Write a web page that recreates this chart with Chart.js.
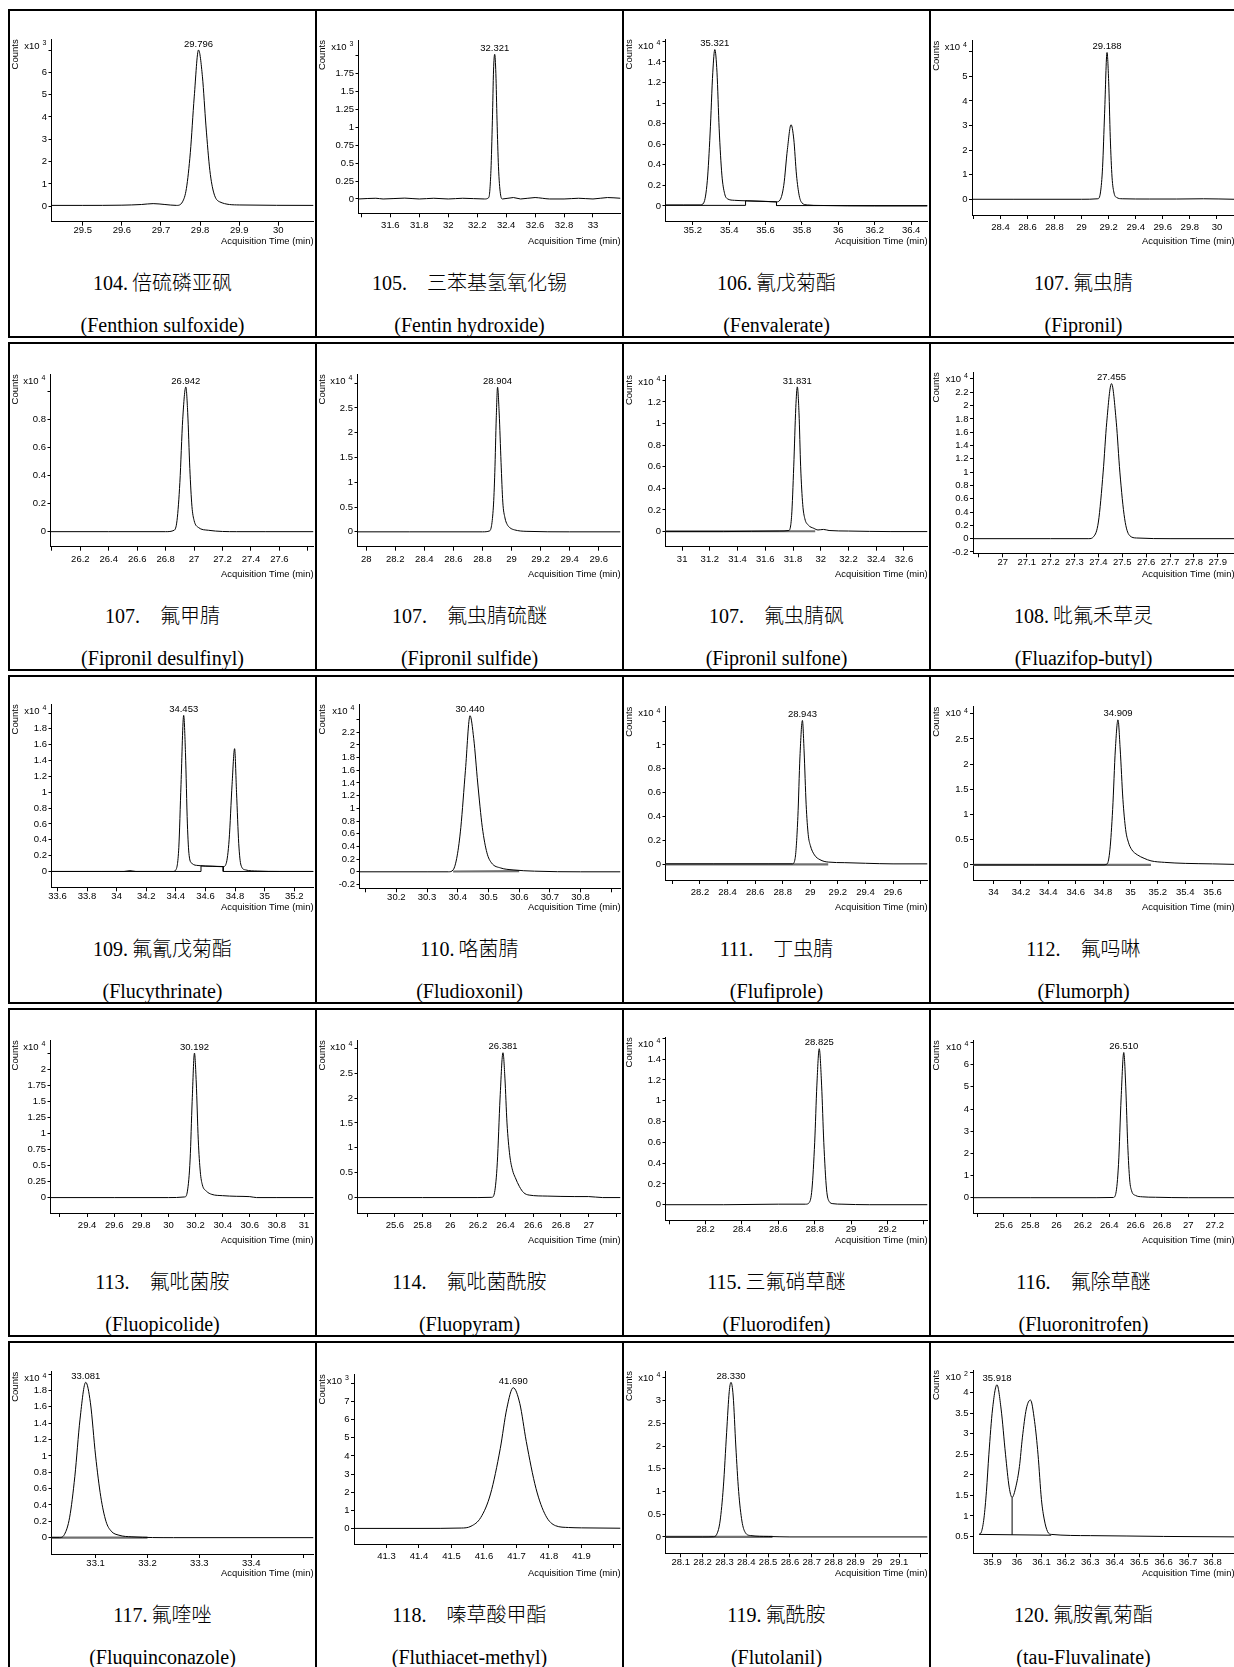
<!DOCTYPE html>
<html>
<head>
<meta charset="utf-8">
<script src="https://cdn.jsdelivr.net/npm/chart.js@4.4.1/dist/chart.umd.min.js"></script>
<style>
  html, body { margin: 0; padding: 0; background: #fff; }
  body { width: 1234px; height: 1667px; overflow: hidden; position: relative; }
  .row { position: absolute; left: 8px; width: 1240px; height: 329px; border: 2px solid #000; box-sizing: border-box; }
  .sep { position: absolute; width: 2px; height: 329px; background: #000; }
  .plot { position: absolute; }
  .cn, .en { position: absolute; text-align: center; white-space: pre; color: #000; line-height: 24px; }
  .cn { font: 300 20px "Liberation Serif", "Noto Sans CJK SC", serif; }
  .en { font: 20px "Liberation Serif", serif; }
</style>
</head>
<body>
<script>
// 图谱数据（时间 min，响应值按各图的 x10^n 计）
const titlesCn = ["104.\u2009倍硫磷亚砜", "105.\u3000三苯基氢氧化锡", "106.\u2009氰戊菊酯", "107.\u2009氟虫腈",
  "107.\u3000氟甲腈", "107.\u3000氟虫腈硫醚", "107.\u3000氟虫腈砜", "108.\u2009吡氟禾草灵",
  "109.\u2009氟氰戊菊酯", "110.\u2009咯菌腈", "111.\u3000丁虫腈", "112.\u3000氟吗啉",
  "113.\u3000氟吡菌胺", "114.\u3000氟吡菌酰胺", "115.\u2009三氟硝草醚", "116.\u3000氟除草醚",
  "117.\u2009氟喹唑", "118.\u3000嗪草酸甲酯", "119.\u2009氟酰胺", "120.\u2009氟胺氰菊酯"];
const titlesEn = ["(Fenthion sulfoxide)", "(Fentin hydroxide)", "(Fenvalerate)", "(Fipronil)",
  "(Fipronil desulfinyl)", "(Fipronil sulfide)", "(Fipronil sulfone)", "(Fluazifop-butyl)",
  "(Flucythrinate)", "(Fludioxonil)", "(Flufiprole)", "(Flumorph)",
  "(Fluopicolide)", "(Fluopyram)", "(Fluorodifen)", "(Fluoronitrofen)",
  "(Fluquinconazole)", "(Fluthiacet-methyl)", "(Flutolanil)", "(tau-Fluvalinate)"];
const peakTimes = ["29.796", "32.321", "35.321", "29.188", "26.942", "28.904", "31.831", "27.455",
  "34.453", "30.440", "28.943", "34.909", "30.192", "26.381", "28.825", "26.510",
  "33.081", "41.690", "28.330", "35.918"];
const exponents = [3, 3, 4, 4, 4, 4, 4, 4, 4, 4, 4, 4, 4, 4, 4, 4, 4, 3, 4, 2];

const xMins = [29.42, 31.38, 35.05, 28.19, 25.99, 27.94, 30.88, 26.875, 33.56, 30.08,
  27.95, 33.85, 29.13, 25.33, 27.98, 25.37, 33.015, 41.2, 28.03, 35.82];
const xMaxs = [30.09, 33.19, 36.49, 30.13, 27.84, 29.75, 32.77, 27.97, 35.33, 30.93,
  29.85, 35.76, 31.07, 27.23, 29.42, 27.35, 33.52, 42.02, 29.23, 36.89];
const xTicks = [
  [29.5, 29.6, 29.7, 29.8, 29.9, 30],
  [31.6, 31.8, 32, 32.2, 32.4, 32.6, 32.8, 33],
  [35.2, 35.4, 35.6, 35.8, 36, 36.2, 36.4],
  [28.4, 28.6, 28.8, 29, 29.2, 29.4, 29.6, 29.8, 30],
  [26.2, 26.4, 26.6, 26.8, 27, 27.2, 27.4, 27.6],
  [28, 28.2, 28.4, 28.6, 28.8, 29, 29.2, 29.4, 29.6],
  [31, 31.2, 31.4, 31.6, 31.8, 32, 32.2, 32.4, 32.6],
  [27, 27.1, 27.2, 27.3, 27.4, 27.5, 27.6, 27.7, 27.8, 27.9],
  [33.6, 33.8, 34, 34.2, 34.4, 34.6, 34.8, 35, 35.2],
  [30.2, 30.3, 30.4, 30.5, 30.6, 30.7, 30.8],
  [28.2, 28.4, 28.6, 28.8, 29, 29.2, 29.4, 29.6],
  [34, 34.2, 34.4, 34.6, 34.8, 35, 35.2, 35.4, 35.6],
  [29.4, 29.6, 29.8, 30, 30.2, 30.4, 30.6, 30.8, 31],
  [25.6, 25.8, 26, 26.2, 26.4, 26.6, 26.8, 27],
  [28.2, 28.4, 28.6, 28.8, 29, 29.2],
  [25.6, 25.8, 26, 26.2, 26.4, 26.6, 26.8, 27, 27.2],
  [33.1, 33.2, 33.3, 33.4],
  [41.3, 41.4, 41.5, 41.6, 41.7, 41.8, 41.9],
  [28.1, 28.2, 28.3, 28.4, 28.5, 28.6, 28.7, 28.8, 28.9, 29, 29.1],
  [35.9, 36, 36.1, 36.2, 36.3, 36.4, 36.5, 36.6, 36.7, 36.8]
];
// 无标注的刻度
const xBare = [[], [31.4], [], [28.2], [26, 27.8], [], [], [26.9], [], [30.1, 30.9],
  [28, 29.8], [], [29.2], [25.4, 27.2], [28, 29.4], [25.4], [33.5], [42], [29.2], []];

const yMins = [-0.69, -0.2, -0.146, -0.64, -0.107, -0.3, -0.14, -0.22, -0.2, -0.26,
  -0.13, -0.3, -0.24, -0.31, -0.15, -0.69, -0.2, -0.86, -0.36, 0.09];
const yMaxs = [7.48, 2.22, 1.62, 6.45, 1.12, 3.18, 1.45, 2.5, 2.11, 2.64,
  1.32, 3.14, 2.45, 3.16, 1.61, 7.1, 2.03, 8.5, 3.65, 4.55];
const yTicks = [
  [0, 1, 2, 3, 4, 5, 6],
  [0, 0.25, 0.5, 0.75, 1, 1.25, 1.5, 1.75],
  [0, 0.2, 0.4, 0.6, 0.8, 1, 1.2, 1.4],
  [0, 1, 2, 3, 4, 5],
  [0, 0.2, 0.4, 0.6, 0.8],
  [0, 0.5, 1, 1.5, 2, 2.5],
  [0, 0.2, 0.4, 0.6, 0.8, 1, 1.2],
  [-0.2, 0, 0.2, 0.4, 0.6, 0.8, 1, 1.2, 1.4, 1.6, 1.8, 2, 2.2],
  [0, 0.2, 0.4, 0.6, 0.8, 1, 1.2, 1.4, 1.6, 1.8],
  [-0.2, 0, 0.2, 0.4, 0.6, 0.8, 1, 1.2, 1.4, 1.6, 1.8, 2, 2.2],
  [0, 0.2, 0.4, 0.6, 0.8, 1],
  [0, 0.5, 1, 1.5, 2, 2.5],
  [0, 0.25, 0.5, 0.75, 1, 1.25, 1.5, 1.75, 2],
  [0, 0.5, 1, 1.5, 2, 2.5],
  [0, 0.2, 0.4, 0.6, 0.8, 1, 1.2, 1.4],
  [0, 1, 2, 3, 4, 5, 6],
  [0, 0.2, 0.4, 0.6, 0.8, 1, 1.2, 1.4, 1.6, 1.8],
  [0, 1, 2, 3, 4, 5, 6, 7],
  [0, 0.5, 1, 1.5, 2, 2.5, 3],
  [0.5, 1, 1.5, 2, 2.5, 3, 3.5, 4]
];
const yBare = [7, 2, 1.6, 6, 1, 3, 1.4, 2.4, 2, 2.4, 1.2, 3, 2.25, 3, 1.6, 7, 2, 8, 3.5, 4.5];

// 色谱峰 [时间, 响应]
const trace104 = [[29.42,0.04],[29.5,0.04],[29.6,0.05],[29.65,0.08],[29.68,0.12],[29.71,0.08],[29.74,0.04],
  [29.755,0.2],[29.765,0.8],[29.775,2.4],[29.785,4.9],[29.796,7.0],[29.806,5.8],[29.815,3.6],[29.825,1.6],
  [29.835,0.6],[29.85,0.2],[29.9,0.06],[30.09,0.04]];
const trace105 = [[31.38,0],[31.5,0.01],[31.55,0],[31.7,0.012],[31.8,0],[31.9,0.01],[32.0,0],[32.1,0.01],
  [32.25,0],[32.28,0.02],[32.295,0.4],[32.305,1.1],[32.313,1.8],[32.321,2.02],[32.329,1.75],[32.337,1.1],
  [32.347,0.45],[32.36,0.08],[32.375,0],[32.45,0.02],[32.5,0],[32.6,0.02],[32.65,0.01],[32.7,0],
  [32.8,0],[32.9,0.01],[33.0,0],[33.1,0.02],[33.19,0.01]];
const trace106 = [[35.05,0.01],[35.15,0.01],[35.24,0.01],[35.26,0.03],[35.28,0.25],[35.295,0.7],[35.31,1.3],
  [35.321,1.52],[35.333,1.3],[35.345,0.75],[35.36,0.3],[35.375,0.12],[35.39,0.07],[35.43,0.055],[35.5,0.05],
  [35.6,0.045],[35.66,0.04],[35.68,0.06],[35.7,0.2],[35.72,0.55],[35.74,0.79],[35.755,0.65],[35.77,0.3],
  [35.785,0.1],[35.8,0.03],[35.83,0.01],[35.9,0.005],[36.2,0],[36.49,0]];
const trace107 = [[28.19,0],[28.5,0],[29.0,0],[29.12,0.02],[29.14,0.3],[29.155,1.3],[29.17,3.5],[29.188,5.97],
  [29.2,4.8],[29.212,2.5],[29.225,0.9],[29.24,0.25],[29.26,0.07],[29.3,0.02],[29.5,0.01],[29.7,0.01],
  [29.9,0.02],[30.13,0]];
const trace107a = [[25.99,0],[26.4,0],[26.8,0],[26.86,0.01],[26.88,0.08],[26.9,0.35],[26.92,0.8],[26.942,1.03],
  [26.955,0.85],[26.97,0.45],[26.985,0.18],[27.0,0.08],[27.03,0.03],[27.1,0.01],[27.3,0],[27.5,0],[27.84,0]];
const trace107b = [[27.94,0],[28.3,0],[28.8,0],[28.85,0.02],[28.875,0.5],[28.885,1.2],[28.895,2.3],
  [28.904,2.92],[28.915,2.4],[28.928,1.4],[28.94,0.6],[28.955,0.28],[28.97,0.15],[28.99,0.08],[29.02,0.04],
  [29.1,0.01],[29.4,0],[29.75,0]];
const trace107c = [[30.88,0],[31.3,0],[31.7,0.005],[31.77,0.01],[31.79,0.15],[31.805,0.6],[31.82,1.15],
  [31.831,1.34],[31.843,1.1],[31.855,0.6],[31.87,0.25],[31.885,0.12],[31.91,0.06],[31.95,0.03],
  [31.98,0.015],[32.02,0.02],[32.06,0.01],[32.2,0.005],[32.5,0],[32.77,0]];
const trace108 = [[26.875,0],[27.2,0],[27.36,0],[27.38,0.03],[27.4,0.25],[27.42,1.0],[27.435,1.75],
  [27.455,2.33],[27.475,1.75],[27.49,1.0],[27.51,0.3],[27.53,0.05],[27.56,0.01],[27.7,0],[27.97,0]];
const trace109 = [[33.56,0],[33.9,0],[34.05,0],[34.09,0.01],[34.13,0],[34.38,0],[34.40,0.02],[34.42,0.3],
  [34.435,1.1],[34.453,1.97],[34.465,1.5],[34.478,0.6],[34.49,0.2],[34.51,0.1],[34.55,0.075],[34.65,0.065],
  [34.72,0.06],[34.74,0.1],[34.76,0.4],[34.78,1.1],[34.797,1.55],[34.81,1.0],[34.825,0.35],[34.84,0.08],
  [34.87,0.02],[34.95,0.005],[35.1,0],[35.33,0]];
const trace110 = [[30.08,0],[30.3,0],[30.37,0],[30.385,0.03],[30.398,0.25],[30.41,0.7],[30.425,1.6],
  [30.44,2.46],[30.452,2.1],[30.465,1.4],[30.48,0.7],[30.495,0.3],[30.51,0.14],[30.54,0.06],[30.58,0.03],
  [30.65,0.01],[30.8,0],[30.93,0]];
const trace111 = [[27.95,0.005],[28.3,0.005],[28.7,0.005],[28.87,0.005],[28.89,0.05],[28.91,0.4],[28.925,0.9],
  [28.943,1.205],[28.955,0.95],[28.97,0.5],[28.985,0.25],[29.0,0.16],[29.03,0.08],[29.07,0.04],
  [29.13,0.02],[29.25,0.015],[29.4,0.01],[29.6,0.005],[29.85,0.005]];
const trace112 = [[33.85,0],[34.3,0],[34.8,0],[34.83,0.02],[34.85,0.3],[34.87,1.1],[34.89,2.3],[34.909,2.88],
  [34.925,2.3],[34.945,1.3],[34.965,0.7],[34.985,0.45],[35.01,0.3],[35.05,0.2],[35.1,0.13],[35.15,0.08],
  [35.25,0.05],[35.4,0.03],[35.6,0.02],[35.76,0.01]];
const trace113 = [[29.13,0],[29.6,0],[30.0,0],[30.12,0.01],[30.14,0.1],[30.16,0.6],[30.175,1.5],[30.192,2.25],
  [30.205,1.8],[30.22,0.9],[30.235,0.4],[30.25,0.2],[30.28,0.1],[30.32,0.05],[30.4,0.03],[30.5,0.02],
  [30.6,0.015],[30.65,0],[30.8,0],[31.07,0]];
const trace114 = [[25.33,0],[25.8,0],[26.2,0],[26.3,0.005],[26.32,0.1],[26.34,0.7],[26.36,2.0],[26.381,2.91],
  [26.395,2.4],[26.41,1.5],[26.43,0.85],[26.45,0.55],[26.47,0.4],[26.5,0.22],[26.53,0.1],[26.57,0.05],
  [26.7,0.03],[26.9,0.02],[27.0,0.02],[27.1,0],[27.23,0]];
const trace115 = [[27.98,0],[28.3,0],[28.6,0.005],[28.75,0.005],[28.77,0.02],[28.785,0.15],[28.8,0.6],
  [28.812,1.15],[28.825,1.5],[28.838,1.15],[28.85,0.6],[28.865,0.15],[28.88,0.03],[28.9,0.01],
  [28.95,0.005],[29.1,0],[29.42,0]];
const trace116 = [[25.37,0],[25.8,0],[26.3,0],[26.43,0.01],[26.45,0.2],[26.47,1.5],[26.49,4.5],[26.51,6.55],
  [26.525,5.0],[26.54,2.4],[26.555,0.8],[26.57,0.3],[26.6,0.1],[26.65,0.04],[26.75,0.02],[27.0,0],[27.35,0]];
const trace117 = [[33.015,0],[33.03,0],[33.04,0.04],[33.05,0.25],[33.06,0.75],[33.07,1.45],[33.081,1.9],
  [33.09,1.65],[33.1,1.0],[33.11,0.5],[33.12,0.2],[33.13,0.08],[33.145,0.03],[33.17,0.01],[33.25,0],[33.52,0]];
const trace118 = [[41.2,0],[41.4,0],[41.53,0.02],[41.56,0.12],[41.59,0.6],[41.62,1.9],[41.65,4.4],[41.67,6.6],
  [41.69,7.76],[41.71,6.9],[41.73,4.8],[41.76,2.2],[41.79,0.7],[41.82,0.15],[41.86,0.05],[41.9,0.03],[42.02,0.01]];
const trace119 = [[28.03,0],[28.2,0],[28.25,0.005],[28.265,0.06],[28.28,0.35],[28.295,1.1],[28.31,2.3],
  [28.322,3.2],[28.33,3.4],[28.34,3.1],[28.352,2.0],[28.365,1.0],[28.38,0.35],[28.395,0.1],[28.42,0.03],
  [28.5,0.01],[28.6,0],[29.23,0]];
const trace120 = [[35.845,0.55],[35.855,0.62],[35.865,0.95],[35.875,1.6],[35.885,2.5],[35.9,3.6],[35.918,4.19],
  [35.935,3.6],[35.953,2.5],[35.968,1.7],[35.98,1.45],[35.995,1.7],[36.01,2.2],[36.022,2.9],[36.038,3.6],
  [36.055,3.82],[36.072,3.3],[36.086,2.5],[36.1,1.4],[36.112,0.9],[36.125,0.62],[36.14,0.55],[36.3,0.52],
  [36.6,0.5],[36.89,0.49]];
const traces = [trace104, trace105, trace106, trace107, trace107a, trace107b, trace107c, trace108,
  trace109, trace110, trace111, trace112, trace113, trace114, trace115, trace116,
  trace117, trace118, trace119, trace120];

// 积分基线
const base106 = [[35.05,0.006],[35.49,0.006],[35.49,0.05],[35.66,0.04],[35.66,0.004],[36.49,0.004]];
const base109 = [[33.56,0],[34.57,0],[34.57,0.07],[34.72,0.062],[34.72,0],[35.33,0]];
const base120 = [[35.845,0.55],[36.14,0.53]];
const drop120 = [[35.98,0.54],[35.98,1.45]];
const integBase = [[], [], [base106], [], [], [], [], [], [base109], [], [], [], [], [], [], [], [], [], [], [base120, drop120]];
const shade107c = [[30.88,0.003],[31.96,0.003]];
const shade110 = [[30.385,0.005],[30.6,0.01]];
const shade111 = [[27.95,0],[29.13,0]];
const shade112 = [[33.85,0],[35.15,0]];
const shade117 = [[33.015,0],[33.2,0]];
const shade119 = [[28.03,0],[28.52,0]];
const shadeBase = [[], [], [], [], [], [], [shade107c], [], [], [shade110], [shade111], [shade112], [], [], [], [], [shade117], [], [shade119], []];

// 版面：每个小图坐标轴在格子里的位置（px，相对行框顶边）
const axisTopPx = [30.3, 31, 30.3, 31.7, 32.3, 32.3, 33, 30.3, 29.3, 29.3,
  31.7, 31.7, 32.3, 32.3, 29.3, 32.3, 30.7, 33.3, 30, 29];
const axisBotPx = [212.7, 204.3, 212, 206, 204.7, 204.7, 204.7, 211.3, 212.3, 213.3,
  205, 205, 205, 205, 212.3, 205, 213, 203, 212.3, 212.3];
const axisLeftPx = [42.5, 42.5, 42.5, 42, 41.5, 41.5, 42.5, 43, 42.5, 43.5,
  42.5, 43, 41.5, 41.5, 42.5, 43.5, 42.5, 38, 42.5, 43];

const SANS = '"Liberation Sans", Arial, sans-serif';
Chart.defaults.font.family = SANS;
Chart.defaults.color = "#000";

function fmt(v) {
  return String(Number(v.toFixed(3)));
}

function isBare(list, v) {
  return list.some((b) => Math.abs(b - v) < 1e-6);
}

function toPoints(arr) {
  return arr.map(([x, y]) => ({ x, y }));
}

function marks(i) {
  return {
    id: "marks" + i,
    afterDatasetsDraw(chart) {
      const { ctx, chartArea, scales } = chart;
      ctx.save();
      ctx.fillStyle = "#000";
      ctx.textBaseline = "middle";
      ctx.font = "9.5px " + SANS;
      ctx.textAlign = "right";
      ctx.fillText("x10", chartArea.left - 12, chartArea.top + 7);
      ctx.font = "7px " + SANS;
      ctx.textAlign = "left";
      ctx.fillText(String(exponents[i]), chartArea.left - 9, chartArea.top + 4);
      const apex = Math.max(...traces[i].map((p) => p[1]));
      ctx.font = "9.5px " + SANS;
      ctx.textAlign = "center";
      ctx.fillText(peakTimes[i], scales.x.getPixelForValue(Number(peakTimes[i])), scales.y.getPixelForValue(apex) - 6);
      ctx.restore();
    }
  };
}

function graficar(canvas, i) {
  const datasets = [{
    data: toPoints(traces[i]),
    borderColor: "#000",
    borderWidth: 1,
    pointRadius: 0,
    cubicInterpolationMode: "monotone",
    fill: false
  }];
  integBase[i].forEach((seg) => datasets.push({
    data: toPoints(seg), borderColor: "#000", borderWidth: 1, pointRadius: 0, tension: 0, fill: false
  }));
  shadeBase[i].forEach((seg) => datasets.push({
    data: toPoints(seg), borderColor: "#707070", borderWidth: 2.2, pointRadius: 0, tension: 0, fill: false
  }));

  const bottom = axisBotPx[i] - 2;          // 画布坐标
  const xHeight = 238.4 - axisBotPx[i];
  const tickPad = axisBotPx[i] < 208 ? 2.5 : -0.6;

  new Chart(canvas, {
    type: "line",
    data: { datasets },
    options: {
      responsive: false,
      animation: false,
      events: [],
      layout: { padding: { top: axisTopPx[i] - 2, right: 1.5, bottom: 250 - bottom - xHeight, left: 0 } },
      plugins: { legend: { display: false }, tooltip: { enabled: false } },
      scales: {
        x: {
          type: "linear",
          min: xMins[i],
          max: xMaxs[i],
          afterBuildTicks: (s) => {
            s.ticks = xBare[i].concat(xTicks[i]).sort((a, b) => a - b).map((v) => ({ value: v }));
          },
          afterFit: (s) => { s.height = xHeight; },
          ticks: {
            autoSkip: false, maxRotation: 0, minRotation: 0, padding: tickPad,
            font: { size: 9.5 },
            callback: (v) => (isBare(xBare[i], v) ? "" : fmt(v))
          },
          grid: { display: true, drawOnChartArea: false, drawTicks: true, tickLength: 4, color: "#000", lineWidth: 1 },
          border: { display: true, color: "#000", width: 1 },
          title: { display: true, text: "Acquisition Time (min)", align: "end", font: { size: 9.4 }, padding: 0 }
        },
        y: {
          type: "linear",
          min: yMins[i],
          max: yMaxs[i],
          afterBuildTicks: (s) => {
            s.ticks = yTicks[i].concat([yBare[i]]).map((v) => ({ value: v }));
          },
          afterFit: (s) => { s.width = axisLeftPx[i] - 1; },
          ticks: {
            autoSkip: false, padding: 1.5,
            font: { size: 9.5 },
            callback: (v) => (Math.abs(v - yBare[i]) < 1e-6 ? "" : fmt(v))
          },
          grid: { display: true, drawOnChartArea: false, drawTicks: true, tickLength: 3, color: "#000", lineWidth: 1 },
          border: { display: true, color: "#000", width: 1 },
          title: { display: true, text: "Counts", align: "end", font: { size: 9.5 }, padding: 0 }
        }
      }
    },
    plugins: [marks(i)]
  });
}

function construir() {
  const sepX = [8, 315, 622, 929, 1236];
  for (let r = 0; r < 5; r++) {
    const top = 9 + 333 * r;
    const row = document.createElement("div");
    row.className = "row";
    row.style.top = top + "px";
    document.body.appendChild(row);
    for (let c = 1; c < 4; c++) {
      const sep = document.createElement("div");
      sep.className = "sep";
      sep.style.left = sepX[c] + "px";
      sep.style.top = top + "px";
      document.body.appendChild(sep);
    }
    for (let c = 0; c < 4; c++) {
      const i = r * 4 + c;
      const canvas = document.createElement("canvas");
      canvas.className = "plot";
      canvas.width = 305;
      canvas.height = 250;
      canvas.style.left = sepX[c] + 2 + "px";
      canvas.style.top = top + 2 + "px";
      document.body.appendChild(canvas);
      graficar(canvas, i);

      const cn = document.createElement("div");
      cn.className = "cn";
      cn.textContent = titlesCn[i];
      cn.style.left = sepX[c] + "px";
      cn.style.width = "309px";
      cn.style.top = top + 1 + 268.5 - 12 + "px";
      document.body.appendChild(cn);

      const en = document.createElement("div");
      en.className = "en";
      en.textContent = titlesEn[i];
      en.style.left = sepX[c] + "px";
      en.style.width = "309px";
      en.style.top = top + 1 + 316 - 12 + "px";
      document.body.appendChild(en);
    }
  }
}

construir();
</script>
</body>
</html>
